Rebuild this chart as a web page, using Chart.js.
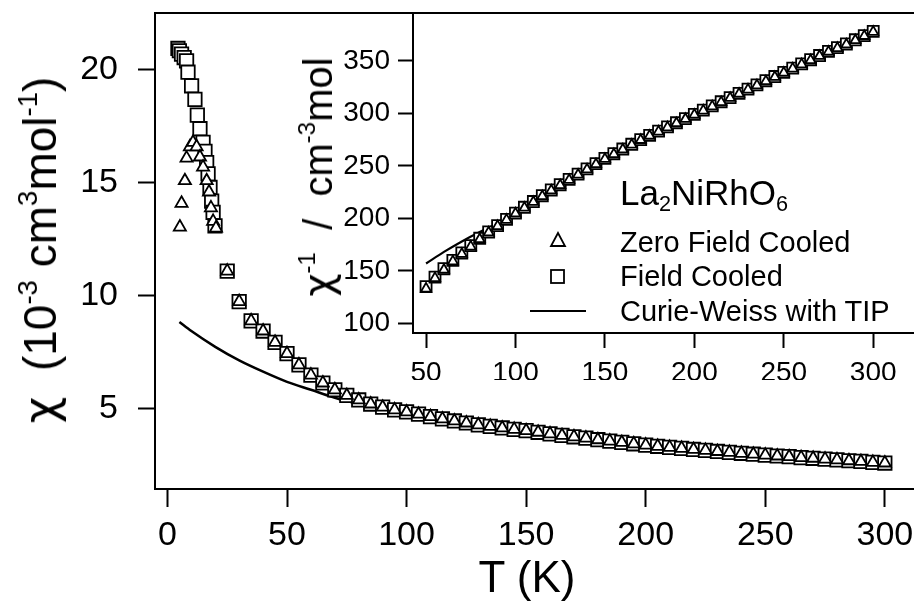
<!DOCTYPE html>
<html>
<head>
<meta charset="utf-8">
<script src="https://cdn.jsdelivr.net/npm/chart.js@4.4.1/dist/chart.umd.min.js"></script>
<style>
  html, body { margin: 0; padding: 0; background: #fff; overflow: hidden; }
  #wrap { position: relative; width: 914px; height: 603px; overflow: hidden;
          font-family: "Liberation Sans", Arial, sans-serif; color: #000; }
  canvas { position: absolute; top: 0; }
  #main { left: 0; }
  #inset { left: 320px; }
  .ttl { position: absolute; white-space: nowrap; line-height: 1; transform: translate(-50%, -50%); }
  .rot { transform: translate(-50%, -50%) rotate(-90deg); }
  .ttl sup { font-size: 0.6em; vertical-align: 0.7em; line-height: 0; }
  .chi { font-family: "DejaVu Sans", sans-serif; }
  .leg { position: absolute; white-space: nowrap; line-height: 1; }
  .leg sub { font-size: 0.62em; vertical-align: -0.28em; line-height: 0; }
  .sym { position: absolute; }
</style>
</head>
<body>
<div id="wrap">
  <canvas id="main" width="932" height="603"></canvas>
  <canvas id="inset" width="612" height="380"></canvas>
  <div class="ttl rot" style="left:40px; top:250px; font-size:46px;"><span class="chi">&chi;</span>&nbsp; (10<sup>-3</sup> cm<sup>3</sup>mol<sup>-1</sup>)</div>
  <div class="ttl" style="left:527px; top:577px; font-size:44px;">T (K)</div>
  <div class="ttl rot" style="left:318px; top:177px; font-size:40px;"><span class="chi">&chi;</span><sup>-1</sup>&nbsp; /&nbsp; cm<sup>-3</sup>mol</div>
  <div class="leg" style="left:620px; top:175px; font-size:35px;">La<sub>2</sub>NiRhO<sub>6</sub></div>
  <div id="legend"></div>
</div>
<script>
// ---- main panel: susceptibility vs temperature ----
const mainXTicks = [0, 50, 100, 150, 200, 250, 300];
const mainYTicks = [5, 10, 15, 20];

// field cooled, low temperature part
const fcLowT   = [4.4, 5.0, 5.9, 7.0, 8.0, 8.6, 10.1, 11.5, 12.5, 13.6, 14.9, 15.7, 16.4, 17.0, 17.8, 18.5, 19.1, 19.9];
const fcLowChi = [20.95, 20.85, 20.7, 20.55, 20.4, 19.9, 19.3, 18.7, 18.0, 17.4, 16.8, 16.4, 15.9, 15.4, 14.8, 14.2, 13.7, 13.1];

// zero field cooled, low temperature part
const zfcLowT   = [5.2, 5.9, 7.3, 8.0, 9.4, 10.7, 12.2, 13.6, 14.9, 16.4, 17.4, 18.2, 19.1, 20.3];
const zfcLowChi = [13.05, 14.1, 15.1, 16.1, 16.6, 16.8, 16.6, 16.15, 15.7, 15.1, 14.6, 13.9, 13.3, 13.0];

// both curves coincide above ~25 K
const tailT = [25, 30, 35, 40, 45, 50, 55, 60, 65, 70, 75, 80, 85, 90, 95, 100,
  105, 110, 115, 120, 125, 130, 135, 140, 145, 150, 155, 160, 165, 170, 175, 180,
  185, 190, 195, 200, 205, 210, 215, 220, 225, 230, 235, 240, 245, 250, 255, 260,
  265, 270, 275, 280, 285, 290, 295, 300];
const tailChi = [11.1, 9.75, 8.9, 8.45, 7.95, 7.45, 6.95, 6.5, 6.15, 5.85, 5.6, 5.4, 5.22, 5.08, 4.96, 4.87,
  4.77, 4.66, 4.56, 4.47, 4.38, 4.30, 4.23, 4.16, 4.10, 4.04, 3.97, 3.90, 3.83, 3.77, 3.71, 3.64,
  3.58, 3.52, 3.46, 3.40, 3.35, 3.30, 3.26, 3.21, 3.17, 3.12, 3.08, 3.04, 3.00, 2.96, 2.92, 2.89,
  2.85, 2.82, 2.78, 2.75, 2.71, 2.68, 2.64, 2.61];

// Curie-Weiss with TIP fit
const cwT   = [5, 10, 20, 30, 40, 50, 60, 70, 80, 90, 100, 125, 150, 175, 200, 225, 250, 275, 300];
const cwChi = [8.85, 8.45, 7.75, 7.15, 6.65, 6.2, 5.85, 5.5, 5.22, 4.97, 4.75, 4.28, 3.9, 3.58, 3.3, 3.07, 2.87, 2.69, 2.53];

// ---- inset: inverse susceptibility ----
const insetXTicks = [50, 100, 150, 200, 250, 300];
const insetYTicks = [100, 150, 200, 250, 300, 350];
const insetT = [50, 55, 60, 65, 70, 75, 80, 85, 90, 95, 100, 105, 110, 115, 120, 125, 130,
  135, 140, 145, 150, 155, 160, 165, 170, 175, 180, 185, 190, 195, 200, 205, 210, 215,
  220, 225, 230, 235, 240, 245, 250, 255, 260, 265, 270, 275, 280, 285, 290, 295, 300];
const fcInv = [135, 144, 152, 160, 167, 174, 181, 187, 193, 199, 205, 210.5, 216, 221.5, 227, 232, 237,
  242, 247, 252, 257, 261.5, 266, 270.5, 275, 279, 283, 287, 291, 295, 299, 303, 307, 311,
  315, 319, 323, 327, 331, 335, 339, 343, 347, 351, 355, 359, 362.5, 366, 370, 374, 378];
const zfcInv = [133, 143, 151, 159, 166, 173, 180, 186.5, 192.5, 198.5, 204.5, 210, 215.5, 221, 226.5, 231.5, 236.5,
  241.5, 246.5, 251.5, 256.5, 261, 265.5, 270, 274.5, 278.5, 282.5, 286.5, 290.5, 294.5, 298.5, 302.5, 306.5, 310.5,
  314.5, 318.5, 322.5, 326.5, 330.5, 334.5, 338.5, 342.5, 346.5, 350.5, 354.5, 358.5, 362, 365.5, 369.5, 373.5, 377.5];
const cwInvT = [50, 60, 70, 80, 90, 100, 125, 150, 175, 200, 225, 250, 275, 300];
const cwInv  = [157, 168, 178, 187, 195, 204, 231, 256, 278, 298, 318, 338, 358, 377];

const labels = ['Zero Field Cooled', 'Field Cooled', 'Curie-Weiss with TIP'];
const family = '"Liberation Sans", Arial, sans-serif';

function pts(xs, ys) {
  return xs.map((x, i) => ({ x: x, y: ys[i] }));
}

const framePlugin = {
  id: 'frame',
  beforeDraw(chart, args, opts) {
    const a = chart.chartArea;
    const ctx = chart.ctx;
    if (opts.fill) {
      ctx.save();
      ctx.fillStyle = opts.fill;
      ctx.fillRect(a.left, a.top, a.right - a.left, a.bottom - a.top);
      ctx.restore();
    }
  },
  afterDraw(chart) {
    const a = chart.chartArea;
    const ctx = chart.ctx;
    ctx.save();
    ctx.strokeStyle = '#000';
    ctx.lineWidth = 2;
    ctx.beginPath();
    ctx.moveTo(a.left - 1, a.top);
    ctx.lineTo(a.right, a.top);
    ctx.stroke();
    ctx.restore();
  }
};

function axis(cfg) {
  return {
    type: 'linear',
    min: cfg.min,
    max: cfg.max,
    afterBuildTicks: s => { s.ticks = cfg.ticks.map(v => ({ value: v })); },
    afterFit: s => {
      if (cfg.width) s.width = cfg.width;
      if (cfg.height) s.height = cfg.height;
      // keep the plot box where it is, no room for overhanging labels
      s.paddingTop = 0; s.paddingBottom = 0; s.paddingLeft = 0; s.paddingRight = 0;
    },
    grid: { drawOnChartArea: false, drawTicks: true, tickLength: cfg.tickLength, tickWidth: 2, tickColor: '#000' },
    border: { display: true, color: '#000', width: 2 },
    ticks: { color: '#000', font: { family: family, size: cfg.font }, padding: cfg.padding, crossAlign: 'near',
             maxRotation: 0, autoSkip: false },
    title: { display: false }
  };
}

function scatterSet(label, data, style, radius) {
  return {
    label: label,
    data: data,
    showLine: false,
    pointStyle: style,
    pointRadius: radius,
    pointBorderWidth: 1.8,
    pointBorderColor: '#000',
    pointBackgroundColor: '#fff',
    borderColor: '#000',
    backgroundColor: '#fff'
  };
}

function lineSet(label, data, width) {
  return {
    label: label,
    data: data,
    showLine: true,
    pointRadius: 0,
    borderColor: '#000',
    borderWidth: width,
    cubicInterpolationMode: 'monotone',
    fill: false
  };
}

const common = {
  responsive: false,
  animation: false,
  events: [],
  plugins: { legend: { display: false }, tooltip: { enabled: false } }
};

new Chart(document.getElementById('main').getContext('2d'), {
  type: 'scatter',
  data: {
    datasets: [
      scatterSet(labels[0], pts(zfcLowT.concat(tailT), zfcLowChi.concat(tailChi)), 'triangle', 7),
      scatterSet(labels[1], pts(fcLowT.concat(tailT), fcLowChi.concat(tailChi)), 'rect', 9.5),
      lineSet(labels[2], pts(cwT, cwChi), 2.5)
    ]
  },
  options: Object.assign({}, common, {
    layout: { padding: { top: 13, left: 0, right: 0, bottom: 0 } },
    plugins: Object.assign({}, common.plugins, { frame: {} }),
    scales: {
      x: axis({ min: -5.2, max: 315, ticks: mainXTicks, height: 114, tickLength: 18, font: 34, padding: 8 }),
      y: axis({ min: 1.46, max: 22.52, ticks: mainYTicks, width: 155, tickLength: 17, font: 34, padding: 20 })
    }
  }),
  plugins: [framePlugin]
});

new Chart(document.getElementById('inset').getContext('2d'), {
  type: 'scatter',
  data: {
    datasets: [
      scatterSet(labels[0], pts(insetT, zfcInv), 'triangle', 5.8),
      scatterSet(labels[1], pts(insetT, fcInv), 'rect', 7.8),
      lineSet(labels[2], pts(cwInvT, cwInv), 2.2)
    ]
  },
  options: Object.assign({}, common, {
    layout: { padding: { top: 13, left: 0, right: 0, bottom: 0 } },
    plugins: Object.assign({}, common.plugins, { frame: { fill: '#fff' } }),
    scales: {
      x: axis({ min: 42.7, max: 327.5, ticks: insetXTicks, height: 47, tickLength: 15, font: 28, padding: 8 }),
      y: axis({ min: 90.8, max: 395.5, ticks: insetYTicks, width: 93, tickLength: 15, font: 28, padding: 8 })
    }
  }),
  plugins: [framePlugin]
});

// legend rows, symbols drawn as small svg
const legendRows = [
  { top: 228, sym: '<svg class="sym" style="left:549px;top:231px" width="18" height="18"><polygon points="9,2 16,15 2,15" fill="#fff" stroke="#000" stroke-width="1.8"/></svg>' },
  { top: 262, sym: '<svg class="sym" style="left:549px;top:268px" width="18" height="18"><rect x="2" y="2" width="13" height="13" fill="#fff" stroke="#000" stroke-width="1.8"/></svg>' },
  { top: 297, sym: '<svg class="sym" style="left:529px;top:306px" width="58" height="10"><line x1="1" y1="5" x2="57" y2="5" stroke="#000" stroke-width="2"/></svg>' }
];
document.getElementById('legend').innerHTML = legendRows.map((r, i) =>
  r.sym + '<div class="leg" style="left:620px;top:' + r.top + 'px;font-size:29px;">' + labels[i] + '</div>'
).join('');
</script>
</body>
</html>
